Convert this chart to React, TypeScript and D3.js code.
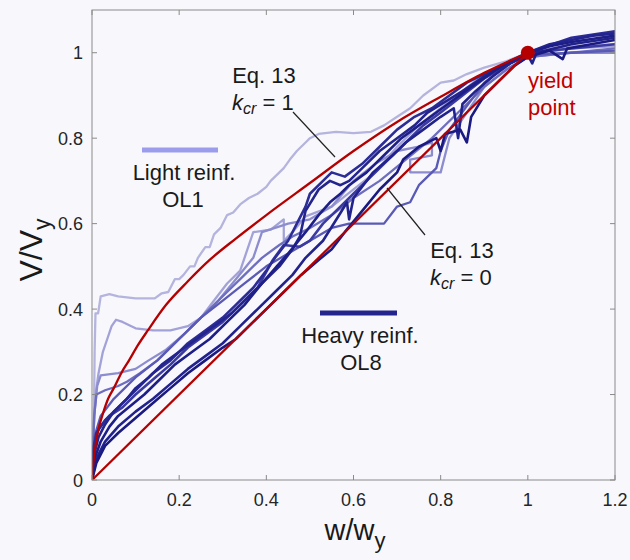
import React from "react";
import * as d3 from "d3";

type P = [number, number];

const xTicks = [0, 0.2, 0.4, 0.6, 0.8, 1, 1.2];
const yTicks = [0, 0.2, 0.4, 0.6, 0.8, 1];
const xTickLabels = ["0", "0.2", "0.4", "0.6", "0.8", "1", "1.2"];
const yTickLabels = ["0", "0.2", "0.4", "0.6", "0.8", "1"];

// Eq. 13 curves
const eqKcr1: P[] = [[0,0],[0.003,0.04],[0.008,0.08],[0.014,0.115],[0.025,0.155],[0.037,0.19],[0.05,0.215],[0.067,0.25],[0.085,0.28],[0.105,0.315],[0.128,0.35],[0.17,0.41],[0.22,0.465],[0.27,0.515],[0.33,0.565],[0.4,0.62],[0.5,0.695],[0.6,0.77],[0.7,0.838],[0.8,0.897],[0.9,0.953],[1,1]];
const eqKcr0: P[] = [[0,0],[1,1]];
const yieldPoint: P = [1, 1];

// test curves (light -> dark)
const s1: P[] = [[0,0],[0.003,0.1],[0.005,0.2],[0.006,0.3],[0.008,0.39],[0.014,0.39],[0.02,0.43],[0.04,0.435],[0.06,0.43],[0.1,0.425],[0.144,0.425],[0.16,0.437],[0.175,0.44],[0.19,0.47],[0.2,0.47],[0.21,0.48],[0.225,0.5],[0.235,0.5],[0.243,0.52],[0.26,0.545],[0.27,0.545],[0.28,0.575],[0.295,0.59],[0.31,0.62],[0.324,0.626],[0.34,0.645],[0.36,0.66],[0.38,0.67],[0.4,0.686],[0.41,0.7],[0.42,0.71],[0.44,0.73],[0.454,0.75],[0.47,0.77],[0.49,0.79],[0.5,0.8],[0.52,0.81],[0.56,0.815],[0.6,0.812],[0.64,0.815],[0.67,0.83],[0.7,0.85],[0.73,0.87],[0.76,0.9],[0.8,0.93],[0.83,0.935],[0.86,0.95],[0.9,0.965],[0.95,0.98],[1,1.0],[1.05,1.01],[1.1,1.015],[1.2,1.02]];
const s2: P[] = [[0,0],[0.004,0.12],[0.008,0.2],[0.015,0.25],[0.025,0.3],[0.035,0.33],[0.045,0.36],[0.055,0.375],[0.07,0.37],[0.1,0.355],[0.14,0.35],[0.18,0.35],[0.22,0.36],[0.25,0.38],[0.28,0.42],[0.31,0.46],[0.34,0.49],[0.37,0.58],[0.41,0.586],[0.44,0.61],[0.44,0.56],[0.46,0.58],[0.49,0.617],[0.55,0.64],[0.6,0.68],[0.65,0.72],[0.7,0.78],[0.75,0.83],[0.8,0.87],[0.85,0.91],[0.9,0.95],[0.95,0.975],[1,0.995],[1.1,1.01],[1.2,1.015]];
const s3: P[] = [[0,0],[0.005,0.15],[0.012,0.22],[0.02,0.245],[0.06,0.25],[0.1,0.26],[0.13,0.28],[0.17,0.305],[0.21,0.34],[0.25,0.38],[0.29,0.42],[0.33,0.47],[0.37,0.52],[0.39,0.58],[0.45,0.6],[0.5,0.61],[0.55,0.64],[0.6,0.7],[0.65,0.74],[0.7,0.77],[0.75,0.78],[0.78,0.79],[0.78,0.76],[0.73,0.75],[0.73,0.72],[0.8,0.72],[0.82,0.8],[0.86,0.86],[0.9,0.92],[0.95,0.96],[1,0.99],[1.1,1.0],[1.2,1.0]];
const s5: P[] = [[0,0],[0.005,0.15],[0.01,0.2],[0.03,0.21],[0.06,0.22],[0.08,0.23],[0.11,0.25],[0.15,0.28],[0.2,0.33],[0.25,0.38],[0.3,0.43],[0.34,0.47],[0.39,0.52],[0.43,0.55],[0.46,0.57],[0.5,0.59],[0.55,0.62],[0.6,0.66],[0.66,0.7],[0.72,0.75],[0.78,0.8],[0.84,0.86],[0.9,0.92],[0.95,0.96],[1,0.99],[1.2,1.01]];
const s4: P[] = [[0,0],[0.005,0.1],[0.02,0.15],[0.05,0.19],[0.1,0.24],[0.15,0.28],[0.2,0.33],[0.25,0.38],[0.3,0.42],[0.35,0.46],[0.4,0.5],[0.45,0.53],[0.5,0.56],[0.55,0.59],[0.59,0.6],[0.61,0.6],[0.67,0.6],[0.7,0.64],[0.73,0.65],[0.75,0.69],[0.79,0.73],[0.8,0.77],[0.82,0.82],[0.86,0.875],[0.9,0.93],[0.95,0.97],[1,0.995],[1.1,1.0],[1.2,1.005]];
const d1: P[] = [[0,0],[0.005,0.06],[0.015,0.1],[0.03,0.13],[0.05,0.16],[0.08,0.19],[0.1,0.215],[0.13,0.24],[0.16,0.27],[0.2,0.3],[0.24,0.33],[0.28,0.36],[0.32,0.39],[0.36,0.43],[0.4,0.47],[0.43,0.5],[0.46,0.54],[0.477,0.57],[0.49,0.63],[0.52,0.68],[0.546,0.7],[0.57,0.69],[0.59,0.7],[0.62,0.73],[0.66,0.77],[0.7,0.8],[0.74,0.83],[0.77,0.86],[0.81,0.885],[0.85,0.91],[0.9,0.945],[0.95,0.975],[1,1.0],[1.05,1.02],[1.1,1.03],[1.15,1.04],[1.2,1.045]];
const d2: P[] = [[0,0],[0.006,0.05],[0.02,0.09],[0.04,0.125],[0.06,0.15],[0.09,0.175],[0.12,0.2],[0.15,0.23],[0.19,0.27],[0.23,0.3],[0.27,0.33],[0.31,0.37],[0.35,0.41],[0.39,0.46],[0.424,0.5],[0.45,0.53],[0.49,0.58],[0.52,0.62],[0.546,0.65],[0.57,0.67],[0.59,0.69],[0.63,0.72],[0.67,0.76],[0.71,0.8],[0.75,0.83],[0.79,0.86],[0.83,0.89],[0.87,0.92],[0.92,0.955],[0.96,0.98],[1,0.998],[1.05,1.015],[1.1,1.025],[1.2,1.04]];
const d3s: P[] = [[0,0],[0.01,0.05],[0.03,0.09],[0.06,0.125],[0.1,0.16],[0.14,0.19],[0.18,0.225],[0.22,0.26],[0.26,0.29],[0.3,0.32],[0.34,0.36],[0.38,0.4],[0.42,0.44],[0.46,0.48],[0.49,0.52],[0.53,0.56],[0.57,0.625],[0.585,0.65],[0.59,0.61],[0.6,0.66],[0.645,0.72],[0.69,0.76],[0.72,0.79],[0.76,0.82],[0.8,0.85],[0.83,0.87],[0.84,0.8],[0.85,0.88],[0.88,0.91],[0.92,0.945],[0.96,0.975],[1,0.995],[1.01,0.975],[1.02,1.0],[1.1,1.02],[1.2,1.035]];
const d4: P[] = [[0,0],[0.01,0.04],[0.03,0.08],[0.06,0.11],[0.1,0.145],[0.14,0.18],[0.18,0.215],[0.22,0.25],[0.26,0.28],[0.3,0.31],[0.33,0.33],[0.36,0.36],[0.4,0.4],[0.44,0.44],[0.48,0.48],[0.52,0.515],[0.55,0.54],[0.58,0.58],[0.62,0.63],[0.66,0.68],[0.7,0.72],[0.714,0.75],[0.75,0.78],[0.79,0.8],[0.8,0.77],[0.81,0.81],[0.845,0.82],[0.86,0.79],[0.87,0.85],[0.9,0.9],[0.94,0.94],[0.97,0.97],[1,0.99],[1.05,1.005],[1.08,0.985],[1.09,1.01],[1.2,1.03]];
const d5: P[] = [[0,0],[0.004,0.08],[0.015,0.12],[0.04,0.15],[0.07,0.17],[0.1,0.2],[0.14,0.235],[0.18,0.27],[0.22,0.31],[0.26,0.34],[0.3,0.37],[0.34,0.41],[0.38,0.45],[0.415,0.515],[0.44,0.55],[0.477,0.546],[0.5,0.56],[0.53,0.6],[0.56,0.63],[0.6,0.67],[0.64,0.71],[0.68,0.75],[0.72,0.79],[0.76,0.83],[0.8,0.86],[0.85,0.9],[0.9,0.94],[0.95,0.97],[1,1.0],[1.1,1.01],[1.2,1.02]];
const d6: P[] = [[0,0],[0.003,0.07],[0.01,0.11],[0.03,0.14],[0.06,0.17],[0.1,0.21],[0.14,0.25],[0.18,0.28],[0.22,0.32],[0.26,0.35],[0.3,0.38],[0.33,0.41],[0.37,0.45],[0.4,0.49],[0.42,0.52],[0.45,0.56],[0.47,0.6],[0.49,0.64],[0.5,0.67],[0.53,0.7],[0.55,0.72],[0.58,0.71],[0.62,0.74],[0.66,0.78],[0.7,0.82],[0.74,0.85],[0.78,0.87],[0.82,0.9],[0.86,0.93],[0.9,0.95],[0.95,0.975],[1,1.0],[1.1,1.035],[1.2,1.05]];

const testSeries: { data: P[]; color: string; width: number }[] = [
  { data: s1, color: "#b4b4de", width: 2.3 },
  { data: s2, color: "#a2a2d8", width: 2.3 },
  { data: s3, color: "#8c8ccf", width: 2.3 },
  { data: s5, color: "#6e6ec0", width: 2.3 },
  { data: s4, color: "#5a5ab6", width: 2.3 },
  { data: d5, color: "#3a3aa2", width: 2.6 },
  { data: d6, color: "#2c2c96", width: 2.6 },
  { data: d1, color: "#24248e", width: 2.6 },
  { data: d2, color: "#1e1e88", width: 2.6 },
  { data: d3s, color: "#22228c", width: 2.6 },
  { data: d4, color: "#1a1a82", width: 2.6 },
];

const W = 630, H = 560;
const L = 92, R = 615, T = 10, B = 480;
const FONT = "'Liberation Sans', Arial, Helvetica, sans-serif";

export default function App() {
  const x = d3.scaleLinear().domain([0, 1.2]).range([L, R]);
  const y = d3.scaleLinear().domain([0, 1.1]).range([B, T]);
  const line = d3.line<P>().x(d => x(d[0])).y(d => y(d[1]));
  const smooth = d3.line<P>().x(d => x(d[0])).y(d => y(d[1])).curve(d3.curveMonotoneX);
  const axisColor = "#8a8a8a";
  const red = "#b40000";
  return (
    <svg width={W} height={H} style={{ position: "absolute", left: 0, top: 0, background: "#f8f8fc" }} fontFamily={FONT}>
      <defs>
        <clipPath id="plot"><rect x={L} y={T} width={R - L} height={B - T} /></clipPath>
      </defs>
      <rect x={0} y={0} width={W} height={H} fill="#f8f8fc" />
      <g clipPath="url(#plot)">
        {testSeries.map((s, i) => (
          <path key={i} d={line(s.data) || ""} fill="none" stroke={s.color} strokeWidth={s.width} strokeLinejoin="round" />
        ))}
        <path d={smooth(eqKcr1) || ""} fill="none" stroke={red} strokeWidth={2.3} />
        <path d={line(eqKcr0) || ""} fill="none" stroke={red} strokeWidth={2.3} />
      </g>
      <circle cx={x(yieldPoint[0])} cy={y(yieldPoint[1])} r={7} fill={red} />
      <rect x={L} y={T} width={R - L} height={B - T} fill="none" stroke={axisColor} strokeWidth={1} />
      {xTicks.map((t, i) => (
        <g key={"x" + i}>
          <line x1={x(t)} x2={x(t)} y1={B} y2={B - 5} stroke={axisColor} />
          <line x1={x(t)} x2={x(t)} y1={T} y2={T + 5} stroke={axisColor} />
          <text x={x(t)} y={506} textAnchor="middle" fontSize={18} fill="#262626">{xTickLabels[i]}</text>
        </g>
      ))}
      {yTicks.map((t, i) => (
        <g key={"y" + i}>
          <line x1={L} x2={L + 5} y1={y(t)} y2={y(t)} stroke={axisColor} />
          <line x1={R} x2={R - 5} y1={y(t)} y2={y(t)} stroke={axisColor} />
          <text x={83} y={y(t) + 6.5} textAnchor="end" fontSize={18} fill="#262626">{yTickLabels[i]}</text>
        </g>
      ))}
      <text x={355} y={540} textAnchor="middle" fontSize={29} fill="#1a1a1a">w/w<tspan fontSize={22} dy={8}>y</tspan></text>
      <text transform="translate(42,250) rotate(-90)" textAnchor="middle" fontSize={32} fill="#1a1a1a">V/V<tspan fontSize={23} dy={8}>y</tspan></text>
      <text x={264} y={83} textAnchor="middle" fontSize={22} fill="#1a1a1a">Eq. 13</text>
      <text x={232} y={110} fontSize={22} fill="#1a1a1a"><tspan fontStyle="italic">k</tspan><tspan fontStyle="italic" fontSize={16} dy={4}>cr</tspan><tspan dy={-4}> = 1</tspan></text>
      <line x1={293} y1={112} x2={335} y2={157} stroke="#222" strokeWidth={1.2} />
      <text x={462} y={258} textAnchor="middle" fontSize={22} fill="#1a1a1a">Eq. 13</text>
      <text x={430} y={285} fontSize={22} fill="#1a1a1a"><tspan fontStyle="italic">k</tspan><tspan fontStyle="italic" fontSize={16} dy={4}>cr</tspan><tspan dy={-4}> = 0</tspan></text>
      <line x1={425} y1={235} x2={387} y2={188} stroke="#222" strokeWidth={1.2} />
      <line x1={142} x2={218} y1={150} y2={150} stroke="#9c9cec" strokeWidth={5} />
      <text x={184} y={180} textAnchor="middle" fontSize={22} fill="#1a1a1a">Light reinf.</text>
      <text x={183} y={207} textAnchor="middle" fontSize={22} fill="#1a1a1a">OL1</text>
      <line x1={320} x2={397} y1={313} y2={313} stroke="#24248e" strokeWidth={5} />
      <text x={360} y={343} textAnchor="middle" fontSize={22} fill="#1a1a1a">Heavy reinf.</text>
      <text x={361} y={370} textAnchor="middle" fontSize={22} fill="#1a1a1a">OL8</text>
      <text x={528} y={88} fontSize={22} fill="#c00000">yield</text>
      <text x={528} y={115} fontSize={22} fill="#c00000">point</text>
    </svg>
  );
}
